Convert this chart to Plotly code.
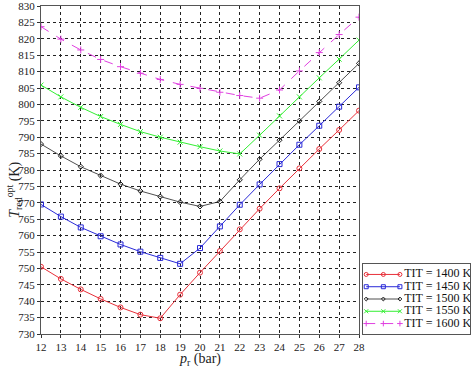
import plotly.graph_objects as go

pressure = list(range(12, 29))
t1400 = [750.5, 746.8, 743.6, 740.7, 738.1, 735.9, 734.8, 742.0, 748.7, 755.3, 761.9, 768.2, 774.4, 780.5, 786.4, 792.2, 798.1]
t1450 = [769.5, 765.8, 762.5, 759.8, 757.3, 755.1, 753.2, 751.4, 756.2, 762.8, 769.4, 775.6, 781.8, 787.7, 793.5, 799.3, 805.2]
t1500 = [787.9, 784.3, 781.0, 778.3, 775.7, 773.6, 771.9, 770.2, 768.9, 770.4, 777.0, 783.3, 789.1, 795.0, 800.9, 806.6, 812.5]
t1550 = [805.9, 802.3, 799.1, 796.3, 793.9, 791.7, 790.0, 788.5, 787.1, 785.8, 784.9, 790.6, 796.5, 802.3, 808.1, 813.8, 819.6]
t1600 = [823.7, 819.9, 816.6, 813.7, 811.5, 809.5, 807.6, 806.1, 804.9, 803.7, 802.7, 801.9, 804.4, 810.2, 815.8, 821.3, 826.6]
labels = ["TIT = 1400 K", "TIT = 1450 K", "TIT = 1500 K", "TIT = 1550 K", "TIT = 1600 K"]

series = [t1400, t1450, t1500, t1550, t1600]
colors = ["#e8303a", "#2a2ad8", "#222222", "#33ee33", "#e040e0"]
symbols = ["circle-open", "square-open", "diamond-open", "x-thin-open", "cross-thin-open"]
msizes = [5, 5, 4, 5, 5]
dashes = ["solid", "solid", "solid", "solid", "dash"]
widths = [1, 1, 0.8, 1, 1]

# layout geometry (pixels)
W, H = 474, 367
L, T, B = 41, 6, 33
plot_w = W - L
main_w = 318
leg_x0, leg_x1 = 363, 470
leg_y_top, leg_y_bot = 264, 334
plot_h = H - T - B

fig = go.Figure()
n = len(series)
for i, (s, lab, c, sym, ms, d, w) in enumerate(zip(series, labels, colors, symbols, msizes, dashes, widths)):
    fig.add_trace(go.Scatter(
        x=pressure, y=s, name=lab, mode="lines+markers",
        line=dict(color=c, width=w, dash=d),
        marker=dict(symbol=sym, size=ms, color=c, line=dict(color=c, width=1)),
        showlegend=False,
    ))
    # custom legend entry
    yy = 1 - (i + 0.85) / (n + 0.7)
    fig.add_trace(go.Scatter(
        x=[0.03, 0.19, 0.345], y=[yy] * 3, mode="lines+markers",
        line=dict(color=c, width=w, dash=d),
        marker=dict(symbol=sym, size=ms - 1, color=c, line=dict(color=c, width=1)),
        xaxis="x2", yaxis="y2", showlegend=False, hoverinfo="skip",
    ))
    fig.add_trace(go.Scatter(
        x=[0.385], y=[yy], mode="text", text=[lab], textposition="middle right",
        textfont=dict(family="Liberation Serif", size=12, color="#111"),
        xaxis="x2", yaxis="y2", showlegend=False, hoverinfo="skip",
    ))

axis_common = dict(
    showgrid=True, gridcolor="#222", griddash="dot", gridwidth=1,
    showline=True, linecolor="#555", linewidth=1, mirror=True,
    ticks="outside", ticklen=3, tickcolor="#333",
    tickfont=dict(family="Liberation Serif", size=11, color="#222"),
    zeroline=False, automargin=False, ticklabeloverflow="allow",
)
fig.update_layout(
    xaxis=dict(range=[12, 28], dtick=1, tick0=12, domain=[0, main_w / plot_w], **axis_common),
    yaxis=dict(range=[730, 830], dtick=5, tick0=730, **axis_common),
    xaxis2=dict(domain=[(leg_x0 - L) / plot_w, (leg_x1 - L) / plot_w], range=[0, 1],
                anchor="y2", showgrid=False, zeroline=False, showticklabels=False, ticks="",
                showline=True, linecolor="#555", linewidth=1, mirror=True, fixedrange=True),
    yaxis2=dict(domain=[(H - B - leg_y_bot) / plot_h, (H - B - leg_y_top) / plot_h], range=[0, 1],
                anchor="x2", showgrid=False, zeroline=False, showticklabels=False, ticks="",
                showline=True, linecolor="#555", linewidth=1, mirror=True, fixedrange=True),
)

title_font = dict(family="Liberation Serif", size=14, color="#222")
xmid = (main_w / 2) / plot_w
fig.add_annotation(text="<i>p</i><sub>r</sub> (bar)", xref="paper", yref="paper",
                   x=xmid, y=-0.078, xanchor="center", yanchor="middle",
                   showarrow=False, font=title_font)
fig.add_annotation(text="<i>T</i><sub>red</sub><sup>opt</sup> (K)", xref="paper", yref="paper",
                   x=(14 - L) / plot_w, y=0.44, xanchor="center", yanchor="middle", textangle=-90,
                   showarrow=False, font=title_font)

fig.update_layout(
    width=W, height=H,
    margin=dict(l=L, r=0, t=T, b=B, autoexpand=False),
    paper_bgcolor="white", plot_bgcolor="white",
    showlegend=False,
)
fig.write_html("out.html", config={"displayModeBar": False},
               post_script="document.body.style.margin='0';document.body.style.overflow='hidden';")
